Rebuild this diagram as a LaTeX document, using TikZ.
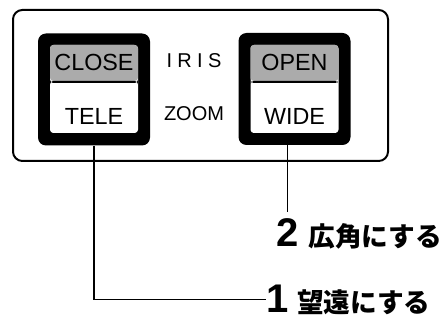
\documentclass[tikz,border=0pt]{standalone}
\usepackage{fontspec}
\setmainfont{Liberation Sans}
\newfontfamily\jpfont{Noto Sans CJK JP}
\usetikzlibrary{positioning}

\begin{document}
\begin{tikzpicture}[
        x=0.75pt, y=-0.75pt,
        panel/.style={draw=black, line width=1.5pt, rounded corners=7pt},
        frame/.style={rectangle, fill=black, rounded corners=6pt, minimum width=84pt, minimum height=84pt, inner sep=0pt},
        face/.style={rectangle, fill=white, rounded corners=2.5pt, minimum width=66pt, minimum height=66pt, inner sep=0pt,
            path picture={\fill[black!33] (path picture bounding box.north west) rectangle ([yshift=-27pt]path picture bounding box.north east);
                \fill[black] ([yshift=-27pt]path picture bounding box.north west) rectangle ([yshift=-28.5pt]path picture bounding box.north east);}},
        key/.style={inner sep=0pt, font=\fontsize{17.5}{19}\selectfont},
        mode/.style={inner sep=0pt, font=\fontsize{15}{17}\selectfont},
        num/.style={inner sep=0pt, anchor=base west, font=\fontsize{30}{32}\selectfont\bfseries},
        jptext/.style={inner sep=0pt, anchor=base west, font=\jpfont\bfseries\fontsize{20}{21}\selectfont},
        lead/.style={draw=black, line width=1pt}
    ]
    \useasboundingbox (0,0) rectangle (440,324);

    % Control panel
    \draw[panel] (13,10) rectangle (388,161);

    % Left button
    \node[frame] (closefr) at (94,89.5) {};
    \node[face] (closeface) at (94,89) {};
    \node[key] (close) at (94,62) {CLOSE};
    \node[key] (tele) at (94,116) {TELE};

    % Right button
    \node[frame] (openfr) at (294.5,89) {};
    \node[face] (openface) at (294.5,89) {};
    \node[key] (open) at (294.5,62) {OPEN};
    \node[key] (wide) at (294.5,116) {WIDE};

    % Middle captions
    \node[mode] (iris) at (194,61) {I\hspace{4pt}R\hspace{4pt}I\hspace{4pt}S};
    \node[mode] (zoom) at (194,114) {ZOOM};

    % Callouts
    \node[num] (num2) at (276,247) {2};
    \node[jptext] (txt2) at ([xshift=7pt]num2.base east) {広角にする};
    \node[num] (num1) at (266,313) {1};
    \node[jptext] (txt1) at ([xshift=6pt]num1.base east) {望遠にする};

    \draw[lead] (num2.north |- openfr.south) -- ([yshift=5pt]num2.north);
    \draw[lead] (closefr.south) |- (num1.west);

\end{tikzpicture}
\end{document}
